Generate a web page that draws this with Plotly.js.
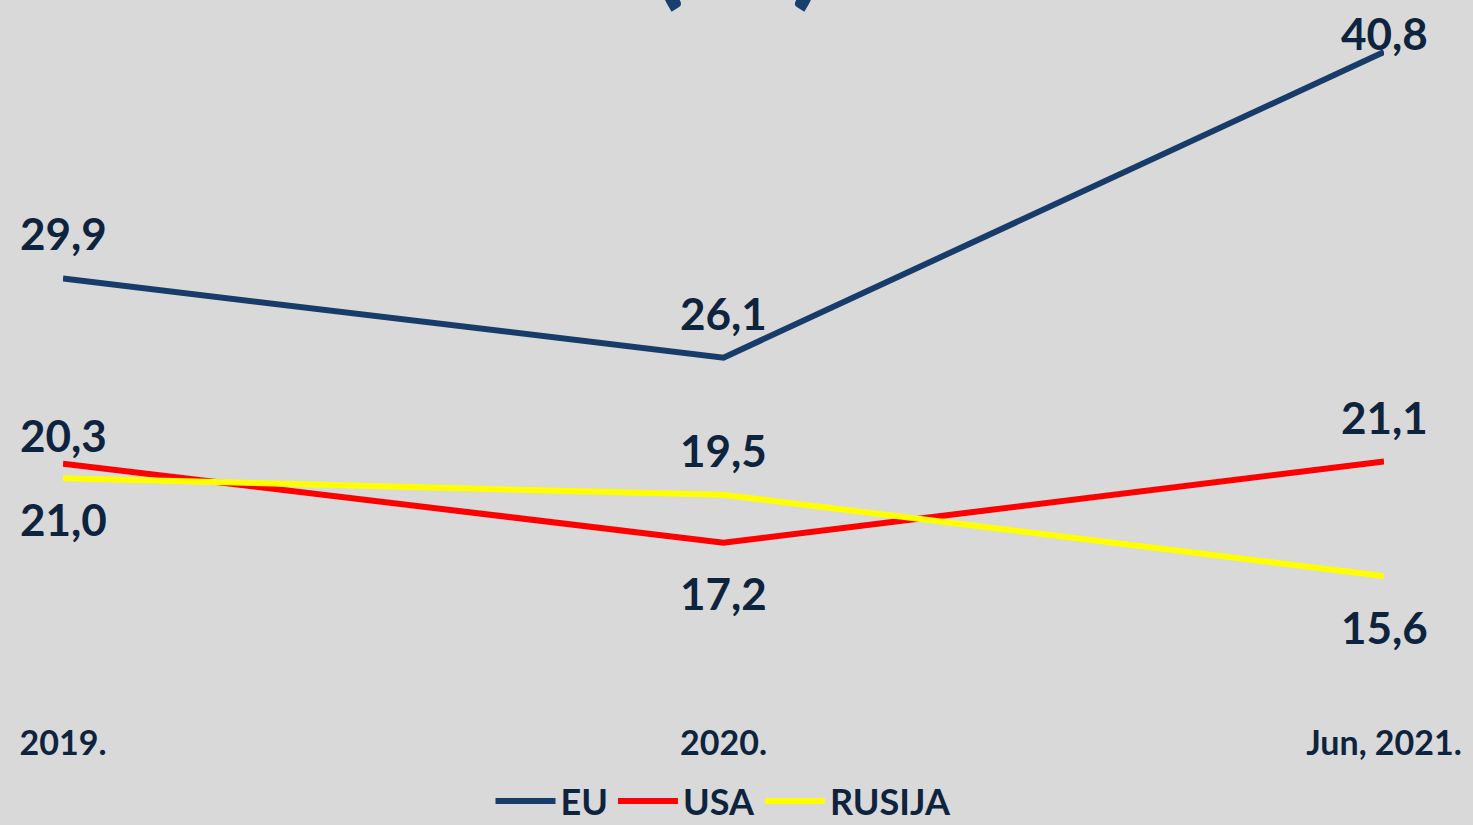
<!DOCTYPE html>
<html>
<head>
<meta charset="utf-8">
<script src="https://cdn.plot.ly/plotly-3.0.1.min.js"></script>
<style>html,body{margin:0;padding:0;background:#d9d9d9;}#chart{width:1473px;height:825px;}</style>
</head>
<body>
<div id="chart"></div>
<script>
const categories = ['2019.', '2020.', 'Jun, 2021.'];
const euValues = [29.9, 26.1, 40.8];
const usaValues = [21.0, 17.2, 21.1];
const rusijaValues = [20.3, 19.5, 15.6];
const euLabels = ['29,9', '26,1', '40,8'];
const usaLabels = ['21,0', '17,2', '21,1'];
const rusijaLabels = ['20,3', '19,5', '15,6'];

const labelColor = '#0e243e';
const fontFam = 'Lato, "Open Sans", sans-serif';

const traces = [
  {name: 'EU', x: categories, y: euValues, color: '#173c69'},
  {name: 'USA', x: categories, y: usaValues, color: '#ff0000'},
  {name: 'RUSIJA', x: categories, y: rusijaValues, color: '#ffff00'}
].map(s => ({
  type: 'scatter', mode: 'lines', name: s.name, x: s.x, y: s.y,
  line: {color: s.color, width: 6}, hoverinfo: 'skip'
}));

// label vertical offsets (px, positive = above)
const euShift = [46, 45, 19];
const usaShift = [-55, -50, 45];
const rusShift = [43, 45, -51];

const annotations = [];
function addLabels(vals, labels, shifts) {
  vals.forEach((v, i) => {
    annotations.push({
      x: i, y: v, xref: 'x', yref: 'y', text: labels[i],
      showarrow: false, yshift: shifts[i], xanchor: 'center', yanchor: 'middle',
      font: {family: fontFam, size: 44, color: labelColor, weight: 'bold'}
    });
  });
}
addLabels(euValues, euLabels, euShift);
addLabels(usaValues, usaLabels, usaShift);
addLabels(rusijaValues, rusijaLabels, rusShift);

// title cut off at the top
annotations.push({
  x: 0.5, y: 1, xref: 'paper', yref: 'paper', text: '(%)', showarrow: false,
  xanchor: 'center', yanchor: 'bottom', yshift: -21, xshift: 14,
  font: {family: fontFam, size: 130, color: '#17406d', weight: 'bold'}
});

const layout = {
  width: 1473, height: 825,
  paper_bgcolor: '#d9d9d9', plot_bgcolor: '#d9d9d9',
  margin: {l: 63, r: 89, t: 0, b: 105, autoexpand: false},
  showlegend: true,
  legend: {
    orientation: 'h', x: 0.5, xanchor: 'center', xref: 'paper',
    y: -0.1125, yanchor: 'middle', yref: 'paper',
    font: {family: fontFam, size: 36, color: labelColor, weight: 'bold'},
    itemwidth: 60, tracegroupgap: 0, bgcolor: 'rgba(0,0,0,0)'
  },
  xaxis: {
    type: 'category', range: [0, 2], showgrid: false, zeroline: false,
    showline: false, ticks: '', fixedrange: true,
    tickfont: {family: fontFam, size: 34, color: labelColor, weight: 'bold'}
  },
  yaxis: {
    range: [8.67, 43.3], showgrid: false, zeroline: false, showline: false,
    showticklabels: false, ticks: '', fixedrange: true
  },
  annotations: annotations
};

Plotly.newPlot('chart', traces, layout, {displayModeBar: false, staticPlot: true});
</script>
</body>
</html>
